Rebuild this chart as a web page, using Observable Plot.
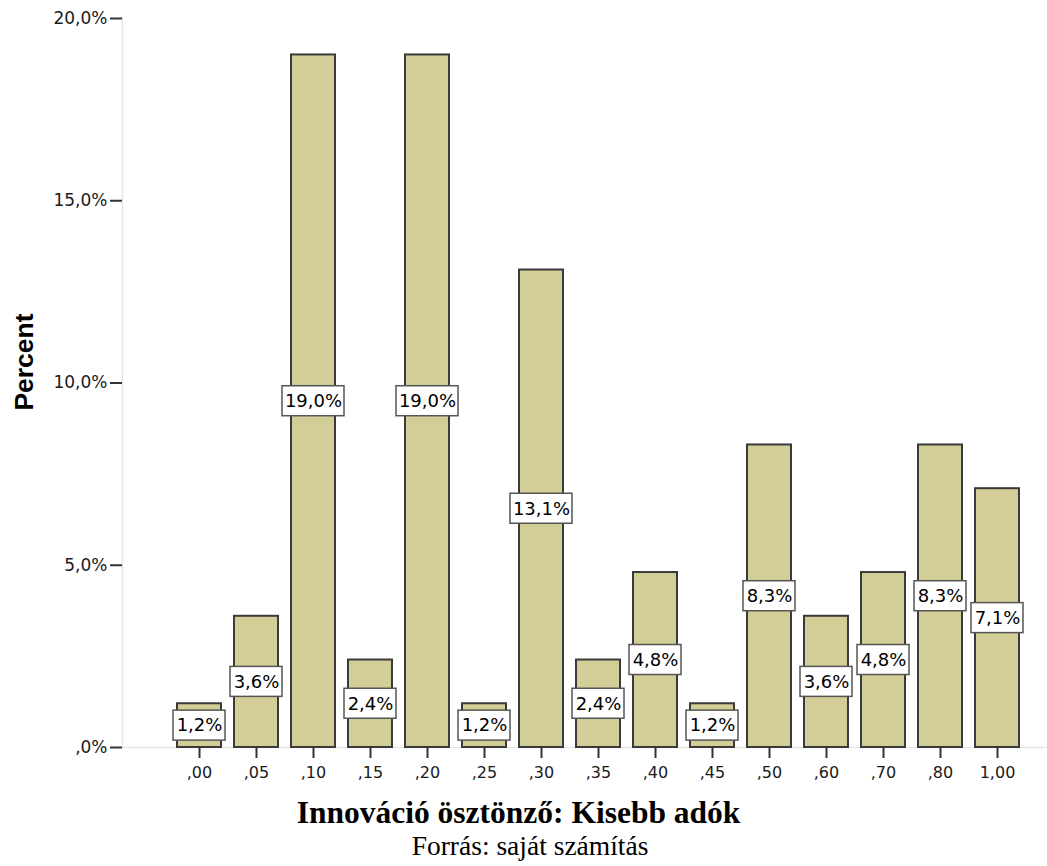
<!DOCTYPE html>
<html><head><meta charset="utf-8">
<script src="https://cdn.jsdelivr.net/npm/d3@7"></script>
<script src="https://cdn.jsdelivr.net/npm/@observablehq/plot@0.6"></script>
<style>
body{margin:0;background:#fff;width:1047px;}
#chart svg{display:block}
#title{font-family:"Liberation Serif","Times New Roman",serif;font-weight:bold;font-size:31.5px;line-height:36px;text-align:center;padding-top:5px;padding-right:10px;color:#000}
#caption{font-family:"Liberation Serif","Times New Roman",serif;font-size:27.5px;line-height:30px;text-align:center;padding-left:13px;color:#000}
</style></head><body>
<div id="chart"></div>
<div id="title">Innováció ösztönző: Kisebb adók</div>
<div id="caption">Forrás: saját számítás</div>
<script>
const categories = [",00", ",05", ",10", ",15", ",20", ",25", ",30", ",35", ",40", ",45", ",50", ",60", ",70", ",80", "1,00"];
const percents = [1.2, 3.6, 19.0, 2.4, 19.0, 1.2, 13.1, 2.4, 4.8, 1.2, 8.3, 3.6, 4.8, 8.3, 7.1];
const yTickValues = [0, 5, 10, 15, 20];
const yTickLabels = [",0%", "5,0%", "10,0%", "15,0%", "20,0%"];
const yAxisTitle = "Percent";

const fmt = v => d3.format(".1f")(v).replace(".", ",") + "%";
const data = categories.map((c, i) => ({cat: c, v: percents[i], label: fmt(percents[i])}));
const short = data.filter(d => d.label.length <= 4);
const long = data.filter(d => d.label.length > 4);

const chart = Plot.plot({
  width: 1047,
  height: 790,
  marginTop: 18,
  marginBottom: 43,
  marginLeft: 122,
  marginRight: 0,
  style: {fontFamily: "DejaVu Sans, sans-serif", fontSize: "17px", background: "#fff", color: "#1a1a1a"},
  x: {domain: categories, paddingInner: 0.23, paddingOuter: 0.71, align: 0.667},
  y: {domain: [0, 20]},
  marks: [
    Plot.frame({anchor: "left", stroke: "#e6e6e6", strokeWidth: 1.5}),
    Plot.frame({anchor: "bottom", stroke: "#e6e6e6", strokeWidth: 1.5}),
    Plot.barY(data, {x: "cat", y: "v", fill: "#d3ce97", stroke: "#3a3a3a", strokeWidth: 2}),
    Plot.barY(short, {x: "cat", y1: d => d.v / 2, y2: d => d.v / 2, insetTop: -15, insetBottom: -15, insetLeft: -4, insetRight: -4, fill: "#fff", stroke: "#555", strokeWidth: 1.5}),
    Plot.barY(long, {x: "cat", y1: d => d.v / 2, y2: d => d.v / 2, insetTop: -15, insetBottom: -15, insetLeft: -9, insetRight: -9, fill: "#fff", stroke: "#555", strokeWidth: 1.5}),
    Plot.text(data, {x: "cat", y: d => d.v / 2, text: "label", fill: "#000", fontSize: 18}),
    Plot.axisY({ticks: yTickValues, tickFormat: d => yTickLabels[yTickValues.indexOf(d)], tickSize: 12, tickPadding: 3, strokeWidth: 2, stroke: "#333", fontSize: 17, label: null}),
    Plot.axisX({tickSize: 11, tickPadding: 8, strokeWidth: 2, stroke: "#333", fontSize: 16, label: null}),
    Plot.text([yAxisTitle], {frameAnchor: "left", textAnchor: "middle", text: d => d, rotate: -90, dx: -98, dy: -21, fontWeight: "bold", fontSize: 26.5, fontFamily: "Liberation Sans, Arial, sans-serif", fill: "#000"})
  ]
});
document.getElementById("chart").appendChild(chart);
</script>
</body></html>
